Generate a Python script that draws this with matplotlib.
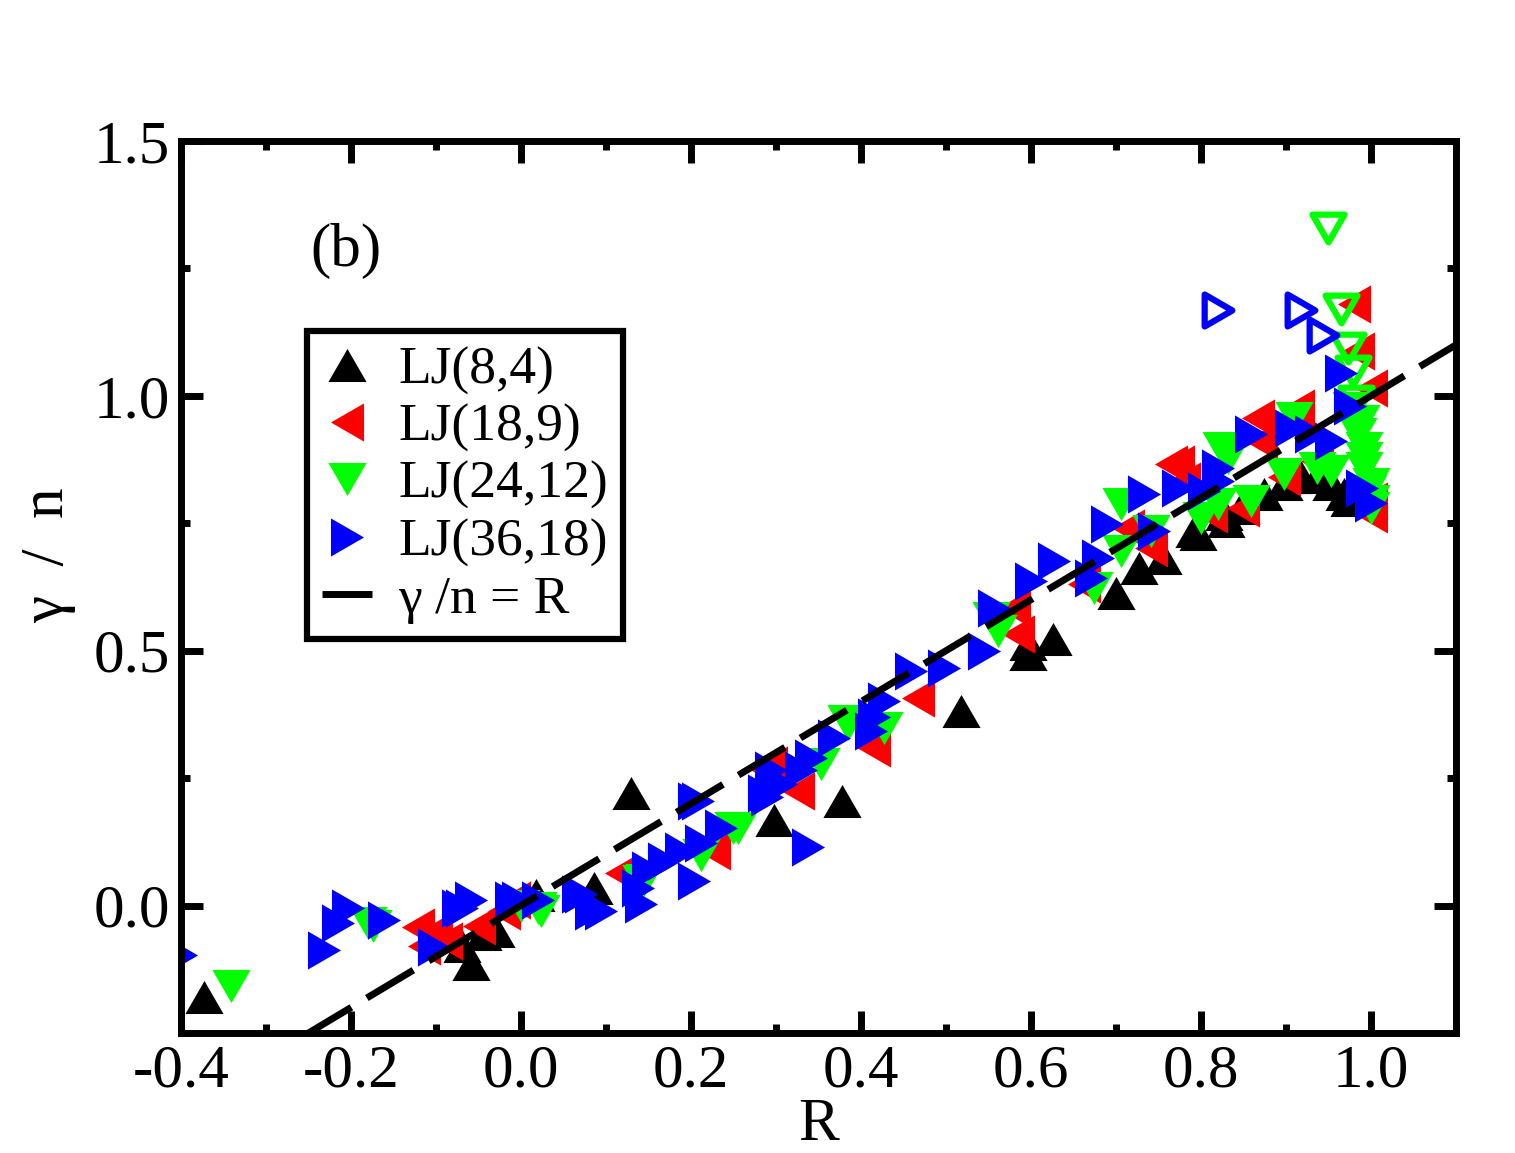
import matplotlib.pyplot as plt
from matplotlib.path import Path
import numpy as np

plt.rcParams['font.family'] = ['Liberation Serif', 'DejaVu Serif']

# LJ(8,4) - black, up triangles
r_84 = [-0.373, -0.070, -0.059, -0.045, -0.030, 0.018, 0.086, 0.129, 0.298,
        0.378, 0.518, 0.596, 0.597, 0.626, 0.700, 0.727, 0.755, 0.792, 0.796,
        0.827, 0.829, 0.847, 0.874, 0.898, 0.918, 0.937, 0.953, 0.968, 0.974, 0.990]
g_84 = [-0.180, -0.080, -0.114, -0.055, -0.050, 0.020, 0.035, 0.220, 0.167,
        0.206, 0.382, 0.514, 0.494, 0.523, 0.614, 0.663, 0.682, 0.735, 0.729,
        0.769, 0.755, 0.780, 0.808, 0.827, 0.840, 0.840, 0.827, 0.808, 0.795, 0.810]

# LJ(18,9) - red, left triangles
r_189 = [-0.121, -0.114, -0.100, -0.088, -0.050, -0.020, -0.008, 0.118, 0.227,
         0.286, 0.294, 0.326, 0.415, 0.467, 0.580, 0.585, 0.662, 0.714, 0.741,
         0.765, 0.773, 0.780, 0.812, 0.850, 0.867, 0.871, 0.898, 0.914, 0.937,
         0.980, 0.985, 1.000, 1.000, 1.000]
g_189 = [-0.043, -0.080, -0.050, -0.069, -0.040, -0.010, 0.010, 0.063, 0.108,
         0.270, 0.275, 0.225, 0.310, 0.408, 0.584, 0.533, 0.631, 0.741, 0.702,
         0.867, 0.867, 0.833, 0.769, 0.780, 0.957, 0.912, 0.840, 0.976, 0.873,
         1.180, 1.088, 1.016, 0.794, 0.769]

# LJ(24,12) - green, down triangles (filled)
r_2412 = [-0.341, -0.180, -0.174, 0.000, 0.020, 0.024, 0.141, 0.145, 0.212,
          0.250, 0.255, 0.353, 0.382, 0.385, 0.400, 0.427, 0.553, 0.561, 0.674,
          0.706, 0.706, 0.741, 0.800, 0.820, 0.824, 0.832, 0.859, 0.898, 0.909,
          0.937, 0.953, 0.976, 0.985, 0.988, 0.992, 0.992, 0.992, 0.996, 1.000,
          1.000, 1.000]
g_2412 = [-0.157, -0.035, -0.040, 0.000, -0.005, -0.010, 0.049, 0.050, 0.100,
          0.153, 0.153, 0.278, 0.363, 0.357, 0.357, 0.349, 0.565, 0.539, 0.624,
          0.788, 0.696, 0.735, 0.761, 0.788, 0.898, 0.878, 0.794, 0.847, 0.957,
          0.859, 0.853, 0.976, 0.925, 0.951, 0.898, 0.859, 0.878, 0.814, 0.827,
          0.794, 0.780]
# LJ(24,12) - open markers
r_2412_open = [0.949, 0.965, 0.973, 0.979, 0.982]
g_2412_open = [1.330, 1.170, 1.094, 1.049, 0.990]

# LJ(36,18) - blue, right triangles (filled)
r_3618 = [-0.400, -0.232, -0.215, -0.204, -0.161, -0.102, -0.074, -0.070,
          -0.059, -0.012, -0.004, 0.020, 0.067, 0.071, 0.082, 0.094, 0.138,
          0.141, 0.149, 0.168, 0.188, 0.204, 0.204, 0.208, 0.212, 0.235, 0.286,
          0.290, 0.294, 0.306, 0.329, 0.338, 0.341, 0.368, 0.412, 0.415, 0.427,
          0.459, 0.498, 0.545, 0.557, 0.600, 0.627, 0.671, 0.679, 0.690, 0.733,
          0.745, 0.773, 0.804, 0.820, 0.820, 0.859, 0.906, 0.929, 0.953, 0.965,
          0.975, 0.990, 1.000]
g_3618 = [-0.098, -0.088, -0.035, -0.004, -0.029, -0.082, -0.004, -0.004,
          0.010, 0.010, 0.010, 0.010, 0.023, 0.023, -0.010, -0.010, 0.035,
          0.004, 0.069, 0.088, 0.108, 0.049, 0.206, 0.206, 0.122, 0.153, 0.220,
          0.212, 0.265, 0.239, 0.265, 0.114, 0.290, 0.329, 0.343, 0.369, 0.402,
          0.461, 0.467, 0.500, 0.584, 0.637, 0.676, 0.643, 0.682, 0.749, 0.808,
          0.735, 0.820, 0.814, 0.833, 0.859, 0.925, 0.937, 0.925, 0.912, 1.045,
          0.980, 0.820, 0.790]
# LJ(36,18) - open markers
r_3618_open = [0.820, 0.918, 0.944]
g_3618_open = [1.169, 1.169, 1.120]

# reference line gamma/n = R
r_line = [-0.4, 1.1]


def tri(verts):
    return Path(verts + [verts[0]], closed=True)


tri_up = tri([(-1, -0.866), (1, -0.866), (0, 0.866)])
tri_down = tri([(-1, 0.866), (1, 0.866), (0, -0.866)])
tri_left = tri([(0.866, -1), (0.866, 1), (-0.866, 0)])
tri_right = tri([(-0.866, -1), (-0.866, 1), (0.866, 0)])

fig = plt.figure(figsize=(15.15, 11.53), dpi=100)
ax = fig.add_axes([0.1195, 0.1041, 0.8415, 0.7736])

ms = 27.5
ax.plot(r_84, g_84, ls='none', marker=tri_up, ms=ms, color='black', mew=0,
        label='LJ(8,4)')
ax.plot(r_189, g_189, ls='none', marker=tri_left, ms=ms, color='#ff0000', mew=0,
        label='LJ(18,9)')
ax.plot(r_2412, g_2412, ls='none', marker=tri_down, ms=ms, color='#00ff00', mew=0,
        label='LJ(24,12)')
ax.plot(r_2412_open, g_2412_open, ls='none', marker=tri_down, ms=23,
        mfc='none', mec='#00ff00', mew=4.5)
ax.plot(r_3618, g_3618, ls='none', marker=tri_right, ms=ms, color='#0000ff', mew=0,
        label='LJ(36,18)')
ax.plot(r_3618_open, g_3618_open, ls='none', marker=tri_right, ms=23,
        mfc='none', mec='#0000ff', mew=4.5)
ax.plot(r_line, r_line, color='black', lw=5, dashes=(7.8, 2.6),
        dash_capstyle='butt', label='γ /n = R')

ax.set_xlim(-0.4, 1.1)
ax.set_ylim(-0.25, 1.5)
ax.set_xticks(np.arange(-0.4, 1.01, 0.2))
ax.set_xticks(np.arange(-0.3, 1.11, 0.2), minor=True)
ax.set_yticks([0.0, 0.5, 1.0, 1.5])
ax.set_yticks([-0.25, 0.25, 0.75, 1.25], minor=True)
ax.set_xticklabels(['-0.4', '-0.2', '0.0', '0.2', '0.4', '0.6', '0.8', '1.0'])
ax.set_yticklabels(['0.0', '0.5', '1.0', '1.5'])
ax.tick_params(which='both', direction='in', top=True, right=True, width=5,
               labelsize=44, pad=8)
ax.tick_params(which='major', length=16)
ax.tick_params(which='minor', length=6.5)
for s in ax.spines.values():
    s.set_linewidth(5)

ax.set_xlabel('R', fontsize=44)
ax.set_ylabel('γ  /  n', fontsize=44)
ax.xaxis.set_label_coords(0.5, -0.072)
ax.yaxis.set_label_coords(-0.082, 0.536)

ax.text(-0.206, 1.284, '(b)', fontsize=44, ha='center', va='center')

leg = ax.legend(loc='upper left', bbox_to_anchor=(0.0988, 0.787), borderaxespad=0,
                fontsize=38.5, frameon=True, fancybox=False, edgecolor='black',
                framealpha=1, handlelength=0.93, handletextpad=0.5,
                borderpad=0.28, labelspacing=0.16)
leg.get_frame().set_linewidth(4.5)

fig.savefig('out.png', dpi=100)
